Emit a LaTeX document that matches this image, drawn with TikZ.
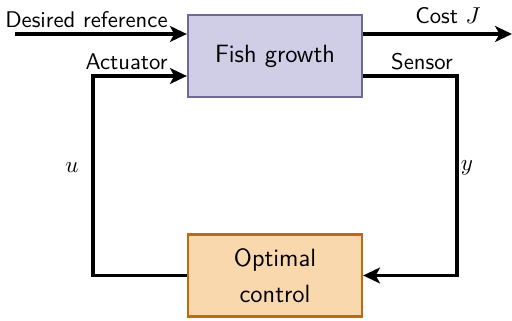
\documentclass[tikz,border=0pt]{standalone}
\usetikzlibrary{arrows.meta}
\definecolor{fishfill}{HTML}{D0CDE6}
\definecolor{fishdraw}{HTML}{6E6A95}
\definecolor{ctrlfill}{HTML}{FAD8AD}
\definecolor{ctrldraw}{HTML}{BD6A12}
\begin{document}
\begin{tikzpicture}[x=0.476pt,y=-0.476pt,font=\sffamily\fontsize{10.8}{13}\selectfont,
  blockbox/.style={draw,line width=1.1pt,minimum width=82.8pt,minimum height=39pt,align=center,inner sep=0pt,font=\sffamily\fontsize{11.9}{17}\selectfont},
  conn/.style={line width=1.8pt,-{Stealth[length=8pt,width=7.5pt,inset=2pt]}},
  lbl/.style={inner sep=0pt}]
\useasboundingbox (0,0) rectangle (512,321);
\node[blockbox,fill=fishfill,draw=fishdraw] (fish) at (275,56) {Fish growth};
\node[blockbox,fill=ctrlfill,draw=ctrldraw,text width=70pt] (ctrl) at (275,275.5) {Optimal\\control};
\coordinate (ref) at (15,34);
\coordinate (cost) at (512,34);
\coordinate (ul) at (93,76);
\coordinate (ur) at (457,76);
\draw[conn] (ref) -- (fish.west |- ref);
\draw[conn] (fish.east |- cost) -- (cost);
\draw[conn] (ctrl.west) -| (ul) -- (fish.west |- ul);
\draw[conn] (fish.east |- ur) -- (ur) |- (ctrl.east);
\node[lbl,anchor=east] (tref) at (168,20) {Desired reference};
\node[lbl] (tcost) at (448,16) {Cost $J$};
\node[lbl,anchor=east] (tact) at (168,62) {Actuator};
\node[lbl] (tsens) at (422,62) {Sensor};
\node[lbl] (tu) at (72,168) {$u$};
\node[lbl] (ty) at (467,168) {$y$};
\end{tikzpicture}
\end{document}
